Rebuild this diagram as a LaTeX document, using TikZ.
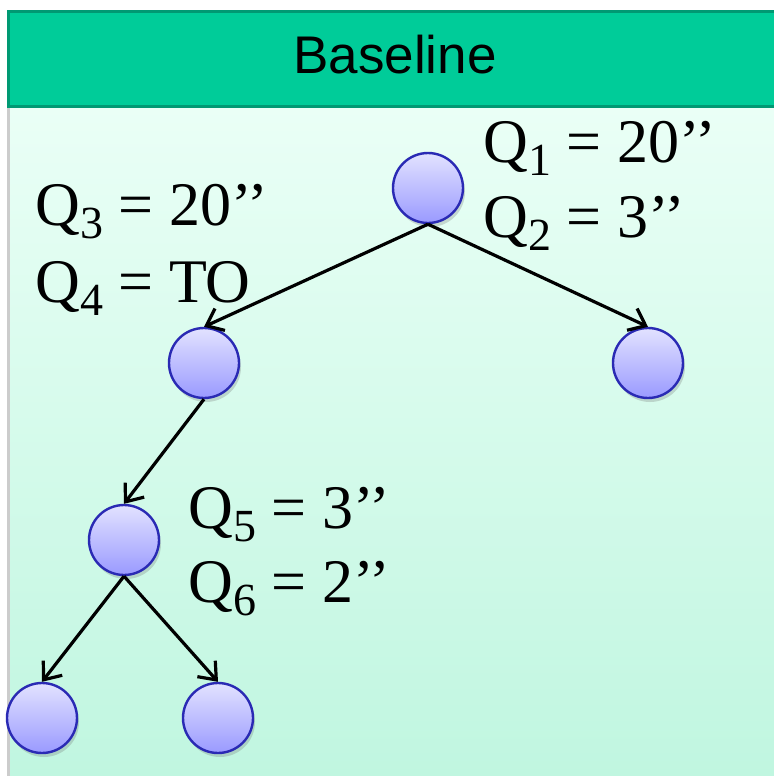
\documentclass[tikz,border=0pt]{standalone}
\usepackage{fontspec}
\setmainfont{Liberation Serif}
\newfontfamily\headfont{Liberation Sans}
\usepackage{xcolor}
\usepackage{tikz}
\usetikzlibrary{arrows.meta,shadows}
\definecolor{headgreen}{HTML}{00CC99}
\definecolor{headedge}{HTML}{009973}
\definecolor{paneltop}{HTML}{EAFFF6}
\definecolor{panelbot}{HTML}{C0F6E0}
\definecolor{nodetop}{HTML}{E2E2FF}
\definecolor{nodebot}{HTML}{9A9AFF}
\definecolor{nodeedge}{HTML}{2A2AB4}
\newcommand{\qsub}[1]{\raisebox{-6.5pt}{\fontsize{23}{24}\selectfont #1}}

\begin{document}
\begin{tikzpicture}[x=0.5pt,y=-0.5pt,>={Straight Barb[length=7.5pt,width=12pt]},
  vertex/.style={circle,minimum size=35pt,inner sep=0pt,draw=nodeedge,line width=1.2pt,
    top color=nodetop,bottom color=nodebot,
    drop shadow={shadow xshift=1pt,shadow yshift=-2pt,opacity=0.25,fill=black!60}},
  edge/.style={->,line width=1.6pt},
  query/.style={anchor=base west,inner sep=0pt,font=\fontsize{31}{32}\selectfont}]
  \useasboundingbox (0,0) rectangle (773,776);
  % background panel
  \shade[top color=paneltop,bottom color=panelbot] (8,107) rectangle (780,776);
  \draw[black!20,line width=1.5pt] (8,107) -- (8,776);
  \draw[headedge,line width=1.5pt,fill=headgreen] (8,11) rectangle (790,106);
  \node[font=\headfont\fontsize{26.5}{28}\selectfont,anchor=base] (title) at (395,73) {Baseline};
  % tree
  \node[vertex] (root) at (428,188) {};
  \node[vertex] (l) at (204,363) {};
  \node[vertex] (r) at (648,363) {};
  \node[vertex] (ll) at (124,540) {};
  \node[vertex] (lll) at (42,718) {};
  \node[vertex] (llr) at (218,718) {};
  \draw[edge] (root.south) -- (l.north);
  \draw[edge] (root.south) -- (r.north);
  \draw[edge] (l.south) -- (ll.north);
  \draw[edge] (ll.south) -- (lll.north);
  \draw[edge] (ll.south) -- (llr.north);
  % timings
  \node[query] (q1) at (483,162) {Q\qsub{1} = 20’’};
  \node[query] (q2) at (483,237) {Q\qsub{2} = 3’’};
  \node[query] (q3) at (35,225) {Q\qsub{3} = 20’’};
  \node[query] (q4) at (35,302) {Q\qsub{4} = TO};
  \node[query] (q5) at (188,528) {Q\qsub{5} = 3’’};
  \node[query] (q6) at (188,602) {Q\qsub{6} = 2’’};
\end{tikzpicture}
\end{document}
